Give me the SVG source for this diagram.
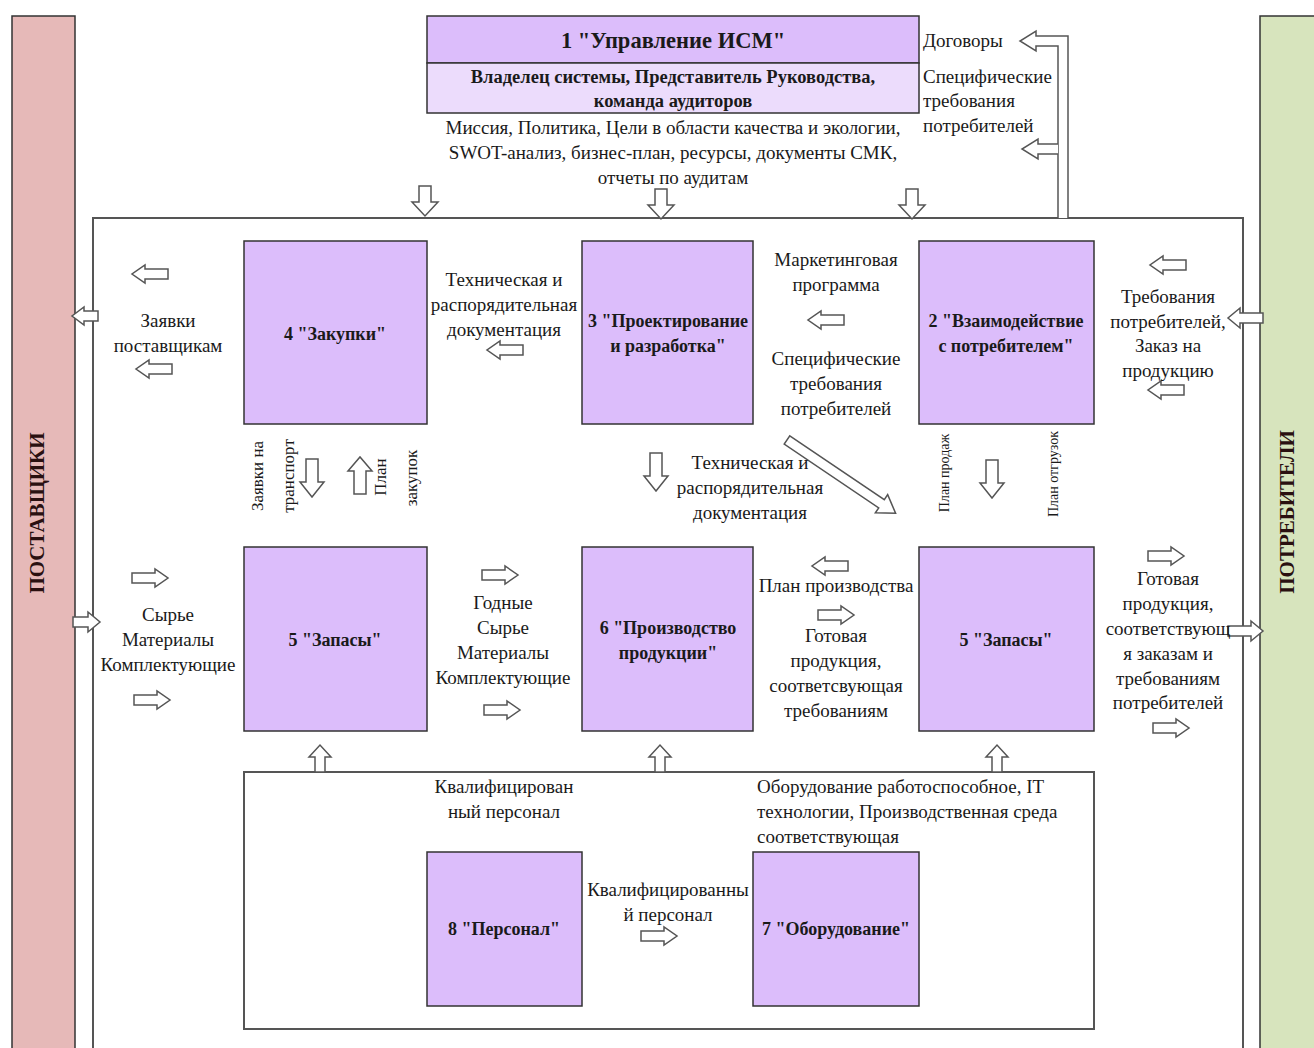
<svg xmlns="http://www.w3.org/2000/svg" width="1314" height="1048" viewBox="0 0 1314 1048">
<style>
.bs{fill:#e6b9b8;stroke:#333;stroke-width:1.5}
.bc{fill:#d7e4bd;stroke:#333;stroke-width:1.5}
.frame{fill:none;stroke:#555;stroke-width:2}
.node{fill:#dcbdfb;stroke:#333;stroke-width:1.5}
.node2{fill:#ecdcfc;stroke:#333;stroke-width:1.5}
text{font-family:"Liberation Serif","DejaVu Serif",serif;font-size:19px;fill:#1a1a1a}
.c{text-anchor:middle}
.b{font-weight:bold;font-size:18px}
.h{font-size:22.5px}
.o{font-size:18.5px}
.s17{font-size:17px}
.sm{font-size:14px}
.band{font-size:21px;font-weight:bold;fill:#2a1010}
</style>
<defs>
<path id="ar" d="M0,-5 H23 V-9 L36,0 L23,9 V5 H0 Z"/>
<path id="al" d="M36,-5 H13 V-9 L0,0 L13,9 V5 H36 Z"/>
<path id="adL" d="M-6,0 V16 H-13 L0,30 L13,16 H6 V0 Z"/>
<path id="ad" d="M-6,0 V23 H-12 L0,38 L12,23 H6 V0 Z"/>
<path id="au" d="M-6,0 V-23 H-12 L0,-37 L12,-23 H6 V0 Z"/>
<path id="aus" d="M-5,0 V-15 H-11 L0,-27 L11,-15 H5 V0 Z"/>
</defs>

<g id="suppliers">
<rect class="bs" x="12" y="16" width="63" height="1040"/>
<text class="band c" transform="translate(44,513) rotate(-90)">ПОСТАВЩИКИ</text>
</g>
<g id="consumers">
<rect class="bc" x="1260" y="16" width="60" height="1040"/>
<text class="band c" transform="translate(1294,512) rotate(-90)">ПОТРЕБИТЕЛИ</text>
</g>
<g id="enterprise">
<rect class="frame" x="93" y="218" width="1150" height="840"/>
</g>
<g id="resources">
<rect class="frame" x="244" y="772" width="850" height="257"/>
</g>

<g id="n1">
<rect class="node" x="427" y="16" width="492" height="47"/>
<rect class="node2" x="427" y="63" width="492" height="50"/>
<text class="c b h" x="673" y="48">1 "Управление ИСМ"</text>
<text class="c b o" x="673" y="83">Владелец системы, Представитель Руководства,</text>
<text class="c b o" x="673" y="107">команда аудиторов</text>
</g>
<g id="n4">
<rect class="node" x="244" y="241" width="183" height="183"/>
<text class="c b" x="335" y="340">4 "Закупки"</text>
</g>
<g id="n3">
<rect class="node" x="582" y="241" width="171" height="183"/>
<text class="c b" x="668" y="327">3 "Проектирование</text>
<text class="c b" x="668" y="352">и разработка"</text>
</g>
<g id="n2">
<rect class="node" x="919" y="241" width="175" height="183"/>
<text class="c b" x="1006" y="327">2 "Взаимодействие</text>
<text class="c b" x="1006" y="352">с потребителем"</text>
</g>
<g id="n5a">
<rect class="node" x="244" y="547" width="183" height="184"/>
<text class="c b" x="335" y="646">5 "Запасы"</text>
</g>
<g id="n6">
<rect class="node" x="582" y="547" width="171" height="184"/>
<text class="c b" x="668" y="634">6 "Производство</text>
<text class="c b" x="668" y="659">продукции"</text>
</g>
<g id="n5b">
<rect class="node" x="919" y="547" width="175" height="184"/>
<text class="c b" x="1006" y="646">5 "Запасы"</text>
</g>
<g id="n8">
<rect class="node" x="427" y="852" width="155" height="154"/>
<text class="c b" x="504" y="935">8 "Персонал"</text>
</g>
<g id="n7">
<rect class="node" x="753" y="852" width="166" height="154"/>
<text class="c b" x="836" y="935">7 "Оборудование"</text>
</g>

<g id="connectors" fill="#fff" stroke="#555" stroke-width="1.5" stroke-linejoin="miter">
<use href="#adL" x="425" y="186"/>
<use href="#adL" x="661" y="189"/>
<use href="#adL" x="912" y="189"/>
<path d="M1068,218 V36 H1036 V31 L1020,41 L1036,51 V46 H1058 V218"/>
<path d="M1058,144 H1038 V139 L1022,149 L1038,159 V154 H1058"/>
<use href="#al" x="132" y="274"/>
<use href="#al" x="136" y="369"/>
<path d="M98,311 H84 V307 L72,316 L84,325 V321 H98 Z"/>
<use href="#al" x="487" y="350"/>
<use href="#al" x="808" y="320"/>
<use href="#al" x="1150" y="265"/>
<use href="#al" x="1148" y="390"/>
<path d="M1263,313 H1240 V308 L1228,318 L1240,328 V323 H1263 Z"/>
<use href="#ad" x="312" y="459"/>
<use href="#au" x="360" y="494"/>
<use href="#ad" x="656" y="453"/>
<use href="#ad" x="992" y="460"/>
<path d="M0,-5 H114 V-11 L131,0 L114,11 V5 H0 Z" transform="translate(787,440) rotate(34)"/>
<use href="#ar" x="132" y="578"/>
<use href="#ar" x="134" y="700"/>
<path d="M73,617 H88 V612 L100,622 L88,632 V627 H73 Z"/>
<use href="#ar" x="482" y="575"/>
<use href="#ar" x="484" y="710"/>
<use href="#al" x="812" y="566"/>
<use href="#ar" x="818" y="615"/>
<use href="#ar" x="1148" y="556"/>
<use href="#ar" x="1153" y="728"/>
<path d="M1228,626 H1251 V621 L1263,631 L1251,641 V636 H1228 Z"/>
<use href="#aus" x="320" y="772"/>
<use href="#aus" x="660" y="772"/>
<use href="#aus" x="997" y="772"/>
<use href="#ar" x="641" y="936"/>
</g>

<g id="labels">
<text class="c" x="673" y="134">Миссия, Политика, Цели в области качества и экологии,</text>
<text class="c" x="673" y="159">SWOT-анализ, бизнес-план, ресурсы, документы СМК,</text>
<text class="c" x="673" y="184">отчеты по аудитам</text>
<text x="923" y="47">Договоры</text>
<text x="923" y="83">Специфические</text>
<text x="923" y="107">требования</text>
<text x="923" y="132">потребителей</text>
<text class="c" x="168" y="327">Заявки</text>
<text class="c" x="168" y="352">поставщикам</text>
<text class="c" x="504" y="286">Техническая и</text>
<text class="c" x="504" y="311">распорядительная</text>
<text class="c" x="504" y="336">документация</text>
<text class="c" x="836" y="266">Маркетинговая</text>
<text class="c" x="836" y="291">программа</text>
<text class="c" x="836" y="365">Специфические</text>
<text class="c" x="836" y="390">требования</text>
<text class="c" x="836" y="415">потребителей</text>
<text class="c" x="1168" y="303">Требования</text>
<text class="c" x="1168" y="328">потребителей,</text>
<text class="c" x="1168" y="352">Заказ на</text>
<text class="c" x="1168" y="377">продукцию</text>
<text class="c s17" transform="translate(263,476) rotate(-90)">Заявки на</text>
<text class="c s17" transform="translate(294,476) rotate(-90)">транспорт</text>
<text class="c s17" transform="translate(386,477) rotate(-90)">План</text>
<text class="c s17" transform="translate(417,478) rotate(-90)">закупок</text>
<text class="c sm" transform="translate(949,473) rotate(-90)">План продаж</text>
<text class="c sm" transform="translate(1058,474) rotate(-90)">План отгрузок</text>
<text class="c" x="750" y="469">Техническая и</text>
<text class="c" x="750" y="494">распорядительная</text>
<text class="c" x="750" y="519">документация</text>
<text class="c" x="168" y="621">Сырье</text>
<text class="c" x="168" y="646">Материалы</text>
<text class="c" x="168" y="671">Комплектующие</text>
<text class="c" x="503" y="609">Годные</text>
<text class="c" x="503" y="634">Сырье</text>
<text class="c" x="503" y="659">Материалы</text>
<text class="c" x="503" y="684">Комплектующие</text>
<text class="c" x="836" y="592">План производства</text>
<text class="c" x="836" y="642">Готовая</text>
<text class="c" x="836" y="667">продукция,</text>
<text class="c" x="836" y="692">соответсвующая</text>
<text class="c" x="836" y="717">требованиям</text>
<text class="c" x="1168" y="585">Готовая</text>
<text class="c" x="1168" y="610">продукция,</text>
<text class="c" x="1168" y="635">соответствующ</text>
<text class="c" x="1168" y="660">я заказам и</text>
<text class="c" x="1168" y="685">требованиям</text>
<text class="c" x="1168" y="709">потребителей</text>
<text class="c" x="504" y="793">Квалифицирован</text>
<text class="c" x="504" y="818">ный персонал</text>
<text x="757" y="793">Оборудование работоспособное, IT</text>
<text x="757" y="818">технологии, Производственная среда</text>
<text x="757" y="843">соответствующая</text>
<text class="c" x="668" y="896">Квалифицированны</text>
<text class="c" x="668" y="921">й персонал</text>
</g>
</svg>
